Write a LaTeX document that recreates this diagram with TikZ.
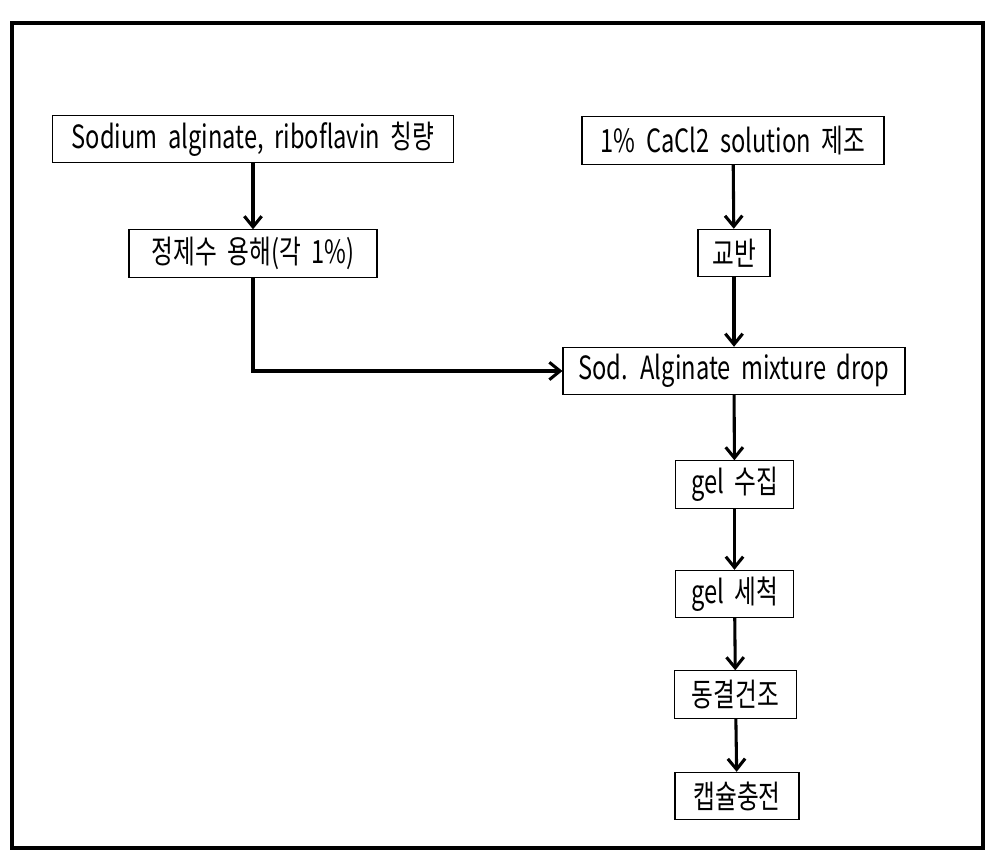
\documentclass[tikz,border=0pt]{standalone}
\usepackage{fontspec}
\setmainfont{Noto Sans CJK KR}[FakeStretch=0.74,WordSpace=2.0]
\usetikzlibrary{arrows.meta}
\begin{document}
\begin{tikzpicture}[x=0.75pt,y=-0.75pt,
    stepbox/.style={draw,line width=0.8pt,minimum height=35.5pt,inner sep=0pt,font=\fontsize{24}{26}\selectfont},
    flow/.style={line width=2.3pt,-{Straight Barb[length=8pt,width=13pt,line width=2.3pt]}}]

            \useasboundingbox (0,0) rectangle (1005,859);
            \draw[line width=2.3pt] (12,23) rectangle (983,848);

            % left branch
            \node[stepbox,minimum width=301pt] (weigh) at (253,139) {Sodium alginate, riboflavin 칭량};
            \node[stepbox,minimum width=186pt] (dissolve) at (253,253.5) {정제수 용해(각 1\%)};

            % right branch
            \node[stepbox,minimum width=226.5pt] (cacl) at (733,140.5) {1\% CaCl2 solution 제조};
            \node[stepbox,minimum width=54pt] (stir) at (734,253) {교반};
            \node[stepbox,minimum width=256.5pt] (drop) at (734,371) {Sod. Alginate mixture drop};
            \node[stepbox,minimum width=88pt] (collect) at (734.5,484.5) {gel 수집};
            \node[stepbox,minimum width=88pt] (wash) at (734.5,594) {gel 세척};
            \node[stepbox,minimum width=92pt] (freeze) at (735.5,694.5) {동결건조};
            \node[stepbox,minimum width=93pt] (capsule) at (737,796) {캡슐충전};

            \draw[flow] (weigh) -- (dissolve);
            \draw[flow] (cacl) -- (stir);
            \draw[flow] (stir) -- (drop);
            \draw[flow] (dissolve.south) |- (drop.west);
            \draw[flow] (drop) -- (collect);
            \draw[flow] (collect) -- (wash);
            \draw[flow] (wash) -- (freeze);
            \draw[flow] (freeze) -- (capsule);

        \end{tikzpicture}
\end{document}
